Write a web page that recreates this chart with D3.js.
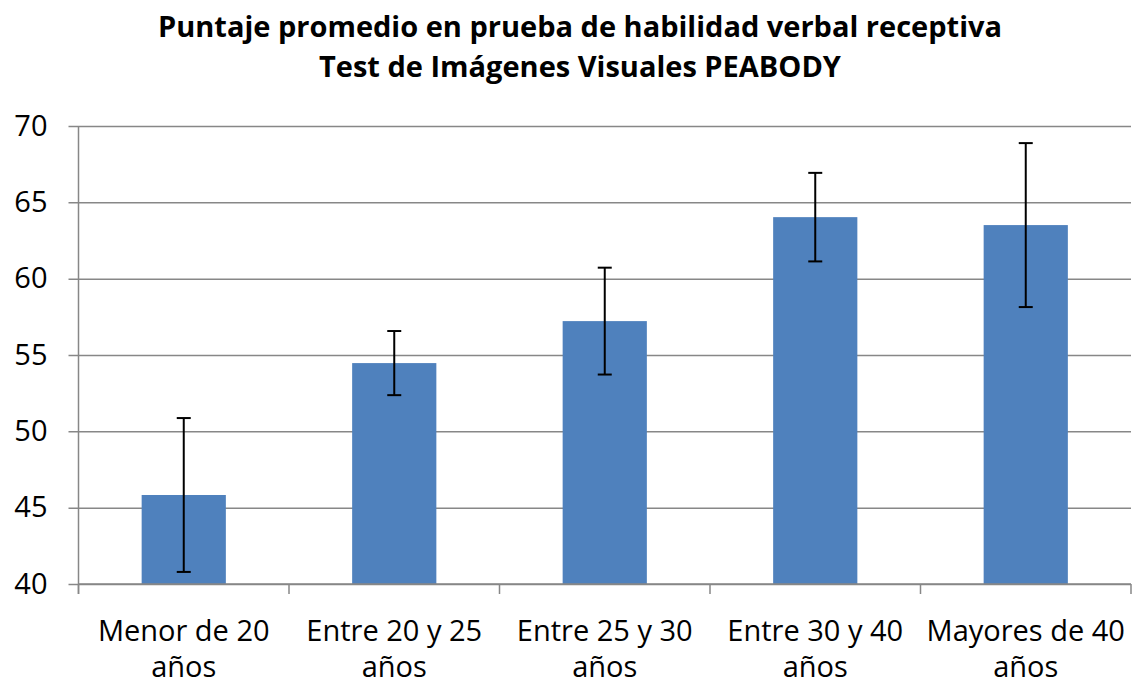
<!DOCTYPE html>
<html>
<head>
<meta charset="utf-8">
<script src="https://cdn.jsdelivr.net/npm/d3@7"></script>
<style>
  body { margin: 0; background: #fff; }
  svg { display: block; font-family: "Open Sans", "Noto Sans", sans-serif; }
</style>
</head>
<body>
<svg id="chart" width="1137" height="685"></svg>
<script>
// data
var categories = [["Menor de 20", "años"], ["Entre 20 y 25", "años"], ["Entre 25 y 30", "años"], ["Entre 30 y 40", "años"], ["Mayores de 40", "años"]];
var means = [45.83, 54.47, 57.22, 64.03, 63.51];
var errors = [5.04, 2.1, 3.5, 2.9, 5.37];
var yTicks = [40, 45, 50, 55, 60, 65, 70];
var titleLines = ["Puntaje promedio en prueba de habilidad verbal receptiva", "Test de Imágenes Visuales PEABODY"];

var chart = {
    margin: { top: 126, right: 6, bottom: 101, left: 78.5 },
    width: 1137,
    height: 685,
    draw() {
        var svg = d3.select("#chart");
        var m = this.margin;
        var x = d3.scaleBand()
            .domain(categories.map((d, i) => i))
            .range([m.left, this.width - m.right])
            .paddingInner(0.6)
            .paddingOuter(0.3);
        var y = d3.scaleLinear().domain([40, 70]).range([this.height - m.bottom, m.top]);

        // title
        svg.append("g").selectAll("text")
            .data(titleLines)
            .join("text")
            .attr("x", 580)
            .attr("y", (d, i) => 37 + i * 40)
            .attr("text-anchor", "middle")
            .attr("font-weight", "bold")
            .attr("font-size", 29)
            .text(d => d);

        // gridlines + y labels
        var yAxis = d3.axisLeft(y).tickValues(yTicks).tickSize(-(this.width - m.right - m.left)).tickPadding(31);
        var gy = svg.append("g").attr("transform", `translate(${m.left},0)`).call(yAxis);
        gy.select(".domain").remove();
        gy.selectAll(".tick line").attr("stroke", "#878787").attr("stroke-width", 1.5).attr("x1", -10);
        gy.selectAll(".tick text").attr("font-size", 29).attr("fill", "#000")
            .attr("font-family", "Open Sans, sans-serif");

        // y axis line
        svg.append("line")
            .attr("x1", m.left).attr("x2", m.left)
            .attr("y1", y(70)).attr("y2", y(40) + 10)
            .attr("stroke", "#878787").attr("stroke-width", 1.5);

        // bars
        svg.append("g").selectAll("rect")
            .data(means)
            .join("rect")
            .attr("x", (d, i) => x(i))
            .attr("width", x.bandwidth())
            .attr("y", d => y(d))
            .attr("height", d => y(40) - y(d))
            .attr("fill", "#4f81bd");

        // x axis: bottom line + ticks at band edges
        var step = x.step();
        var edges = d3.range(categories.length + 1).map(i => m.left + i * step);
        svg.append("line")
            .attr("x1", m.left).attr("x2", this.width - m.right)
            .attr("y1", y(40)).attr("y2", y(40))
            .attr("stroke", "#878787").attr("stroke-width", 1.5);
        svg.append("g").selectAll("line")
            .data(edges)
            .join("line")
            .attr("x1", d => d).attr("x2", d => d)
            .attr("y1", y(40)).attr("y2", y(40) + 10)
            .attr("stroke", "#878787").attr("stroke-width", 1.5);

        // error bars
        var eb = svg.append("g").attr("stroke", "#000").attr("stroke-width", 2);
        means.forEach((v, i) => {
            var cx = x(i) + x.bandwidth() / 2;
            var lo = y(v - errors[i]), hi = y(v + errors[i]);
            eb.append("line").attr("x1", cx).attr("x2", cx).attr("y1", lo).attr("y2", hi);
            eb.append("line").attr("x1", cx - 7).attr("x2", cx + 7).attr("y1", lo).attr("y2", lo);
            eb.append("line").attr("x1", cx - 7).attr("x2", cx + 7).attr("y1", hi).attr("y2", hi);
        });

        // category labels
        var lab = svg.append("g").selectAll("text")
            .data(categories)
            .join("text")
            .attr("text-anchor", "middle")
            .attr("font-size", 29)
            .attr("fill", "#000");
        lab.selectAll("tspan")
            .data((d, i) => d.map(t => ({ t: t, i: i })))
            .join("tspan")
            .attr("x", d => x(d.i) + x.bandwidth() / 2)
            .attr("y", (d, j) => 641 + j * 36)
            .text(d => d.t);
    }
};
chart.draw();
</script>
</body>
</html>
